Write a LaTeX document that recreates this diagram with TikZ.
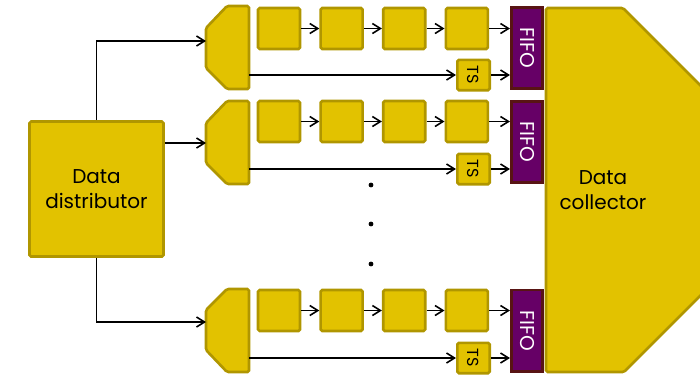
\documentclass[tikz,border=0pt]{standalone}
\usepackage{fontspec}
\setmainfont{Poppins}
\usetikzlibrary{arrows.meta,positioning}
\definecolor{corouro}{RGB}{226,194,0}
\definecolor{corborda}{RGB}{176,150,0}
\definecolor{corroxo}{RGB}{102,0,102}
\definecolor{cormarrom}{RGB}{88,20,20}

\begin{document}
\begin{tikzpicture}[
  x=0.5pt, y=-0.5pt,
  node distance=9pt,
  forma/.style={fill=corouro, draw=corborda, line width=1.3pt, rounded corners=0.8pt},
  bloco/.style={rectangle, forma, minimum width=21pt, minimum height=20.5pt, inner sep=0pt},
  marca/.style={bloco, rotate=-90, minimum width=15.2pt, minimum height=16.2pt,
                font=\fontsize{8}{8}\selectfont},
  fila/.style={rectangle, fill=corroxo, draw=cormarrom, line width=1.3pt, text=white,
               rotate=-90, minimum width=40.7pt, minimum height=15.7pt, inner sep=0pt,
               font=\fontsize{10}{10}\selectfont},
  texto/.style={align=center, font=\fontsize{10}{12.8}\selectfont},
  seta/.style={-{Straight Barb[length=4pt,width=5pt]}, line width=0.8pt}
]
  \useasboundingbox (0,0) rectangle (700,377);

  \node[bloco, texto, minimum width=67pt, minimum height=67.5pt]
    (dist) at (96.5,189) {Data\\distributor};

  \draw[forma] (546,8) -- (623,8) -- (708,93) -- (708,288) -- (624,372) -- (546,372) -- cycle;
  \node[texto] (col) at (603,190) {Data\\collector};

  \draw[forma] (206,28) -- (227,6) -- (249,6) -- (249,89) -- (227,89) -- (206,68) -- cycle;
  \coordinate (e1) at (206,41);
  \coordinate (s1) at (249,75);
  \node[bloco] (q11) at (279,28.5) {};
  \node[bloco, right=of q11] (q12) {};
  \node[bloco, right=of q12] (q13) {};
  \node[bloco, right=of q13] (q14) {};
  \node[marca] (t1) at (473.5,75) {TS};
  \node[fila] (f1) at (527,48) {FIFO};

  \draw[forma] (206,123) -- (227,101) -- (249,101) -- (249,184) -- (227,184) -- (206,163) -- cycle;
  \coordinate (e2) at (206,143);
  \coordinate (s2) at (249,169);
  \node[bloco] (q21) at (279,121.5) {};
  \node[bloco, right=of q21] (q22) {};
  \node[bloco, right=of q22] (q23) {};
  \node[bloco, right=of q23] (q24) {};
  \node[marca] (t2) at (473.5,169) {TS};
  \node[fila] (f2) at (527,142) {FIFO};

  \draw[forma] (206,310) -- (227,289) -- (249,289) -- (249,372) -- (227,372) -- (206,350) -- cycle;
  \coordinate (e3) at (206,322);
  \coordinate (s3) at (249,358);
  \node[bloco] (q31) at (279,310.5) {};
  \node[bloco, right=of q31] (q32) {};
  \node[bloco, right=of q32] (q33) {};
  \node[bloco, right=of q33] (q34) {};
  \node[marca] (t3) at (473.5,358) {TS};
  \node[fila] (f3) at (527,330.5) {FIFO};

  \draw[seta] (dist.north) |- (e1);
  \draw[seta] (dist.east |- e2) -- (e2);
  \draw[seta] (dist.south) |- (e3);

  \draw[seta] (q11) -- (q12);
  \draw[seta] (q12) -- (q13);
  \draw[seta] (q13) -- (q14);
  \draw[seta] (q14) -- (q14 -| f1.south);
  \draw[seta] (s1) -- (t1);
  \draw[seta] (t1) -- (t1 -| f1.south);

  \draw[seta] (q21) -- (q22);
  \draw[seta] (q22) -- (q23);
  \draw[seta] (q23) -- (q24);
  \draw[seta] (q24) -- (q24 -| f2.south);
  \draw[seta] (s2) -- (t2);
  \draw[seta] (t2) -- (t2 -| f2.south);

  \draw[seta] (q31) -- (q32);
  \draw[seta] (q32) -- (q33);
  \draw[seta] (q33) -- (q34);
  \draw[seta] (q34) -- (q34 -| f3.south);
  \draw[seta] (s3) -- (t3);
  \draw[seta] (t3) -- (t3 -| f3.south);

  \fill (371,185) circle (1.2pt);
  \fill (371,224) circle (1.2pt);
  \fill (371,264) circle (1.2pt);
\end{tikzpicture}
\end{document}
